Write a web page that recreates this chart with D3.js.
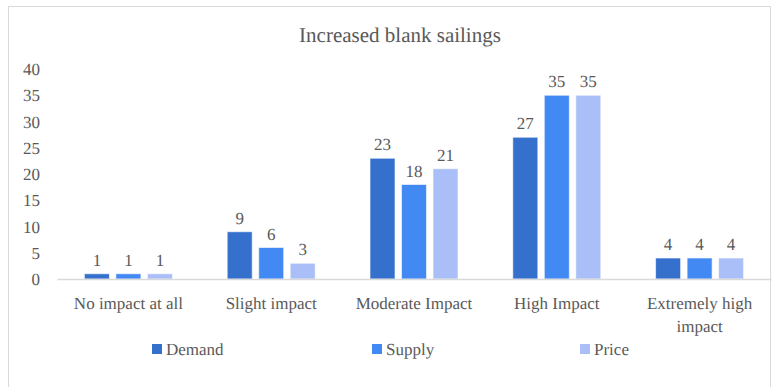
<!DOCTYPE html>
<html>
<head>
<meta charset="utf-8">
<script src="https://cdn.jsdelivr.net/npm/d3@7"></script>
<style>
  html, body { margin: 0; padding: 0; background: #fff; }
  svg { display: block; }
  svg text { text-rendering: geometricPrecision; }
</style>
</head>
<body>
<svg id="chart" width="774" height="387"></svg>
<script>
const categories = ["No impact at all", "Slight impact", "Moderate Impact", "High Impact", "Extremely high impact"];
const seriesNames = ["Demand", "Supply", "Price"];
const demand = [1, 9, 23, 27, 4];
const supply = [1, 6, 18, 35, 4];
const price = [1, 3, 21, 35, 4];
const yTicks = [0, 5, 10, 15, 20, 25, 30, 35, 40];
const colors = ["#3470CC", "#4389F4", "#AABFF8"];

const FONT = "'Liberation Serif', monospace";
const TEXT_COLOR = "#595959";

const seriesValues = [demand, supply, price];
const svg = d3.select("#chart");

// outer frame
svg.append("rect")
  .attr("x", 8.5).attr("y", 6.5)
  .attr("width", 762).attr("height", 390)
  .attr("fill", "none").attr("stroke", "#d9d9d9").attr("stroke-width", 1);

const plotLeft = 57, plotRight = 771, plotTop = 69, plotBottom = 279;

const x0 = d3.scaleBand().domain(categories).range([plotLeft, plotRight]);
const x1 = d3.scaleBand().domain(seriesNames).range([0, x0.bandwidth()]).paddingInner(0.206).paddingOuter(0.87);
const y = d3.scaleLinear().domain([0, 40]).range([plotBottom, plotTop]);

// place a label at (x, y); extra lines stack downward
function label(parent, x, yPos, lines, size, anchor, lineGap) {
  const t = parent.append("text")
    .attr("x", x).attr("y", yPos)
    .attr("text-anchor", anchor || "middle")
    .style("font-family", FONT)
    .style("font-size", size + "px")
    .style("fill", TEXT_COLOR);
  const arr = Array.isArray(lines) ? lines : [lines];
  t.selectAll("tspan").data(arr).join("tspan")
    .attr("x", x)
    .attr("dy", (l, i) => i === 0 ? 0 : (lineGap || 0))
    .text(l => l);
  return t;
}

// title
label(svg, 400, 42, "Increased blank sailings", 21, "middle");

// y axis tick labels
const yLabels = svg.append("g");
yTicks.forEach(t => label(yLabels, 40, y(t) + 6, String(t), 17, "end"));

// bars
const groups = svg.append("g").selectAll("g")
  .data(categories)
  .join("g")
  .attr("transform", d => `translate(${x0(d)},0)`);

const cells = (d, i) => seriesNames.map((s, j) => ({ s, j, v: seriesValues[j][i] }));

groups.selectAll("rect")
  .data(cells)
  .join("rect")
  .attr("x", d => x1(d.s))
  .attr("y", d => y(d.v))
  .attr("width", x1.bandwidth())
  .attr("height", d => y(0) - y(d.v))
  .attr("fill", d => colors[d.j])
  .attr("stroke", "#ffffff")
  .attr("stroke-opacity", 0.6)
  .attr("stroke-width", 1);

// value labels
groups.each(function(cat, i) {
  const g = d3.select(this);
  cells(cat, i).forEach(d => label(g, x1(d.s) + x1.bandwidth() / 2, y(d.v) - 8, String(d.v), 17, "middle"));
});

// x axis baseline
const xAxis = d3.axisBottom(x0).tickSize(0).tickPadding(0).tickFormat("");
const xg = svg.append("g").attr("transform", `translate(0,${plotBottom})`).call(xAxis);
xg.select(".domain").attr("stroke", "#d9d9d9").attr("stroke-width", 1.5);

// category labels (the long one wraps onto two lines)
const catLines = { "Extremely high impact": ["Extremely high", "impact"] };
const catG = svg.append("g");
categories.forEach(c => label(catG, x0(c) + x0.bandwidth() / 2, 309, catLines[c] || c, 17, "middle", 23));

// legend
const legendX = [152, 372, 580];
const legend = svg.append("g");
seriesNames.forEach((s, i) => {
  legend.append("rect")
    .attr("x", legendX[i]).attr("y", 344)
    .attr("width", 10).attr("height", 10)
    .attr("fill", colors[i]);
  label(legend, legendX[i] + 14, 355, s, 17, "start");
});
</script>
</body>
</html>
